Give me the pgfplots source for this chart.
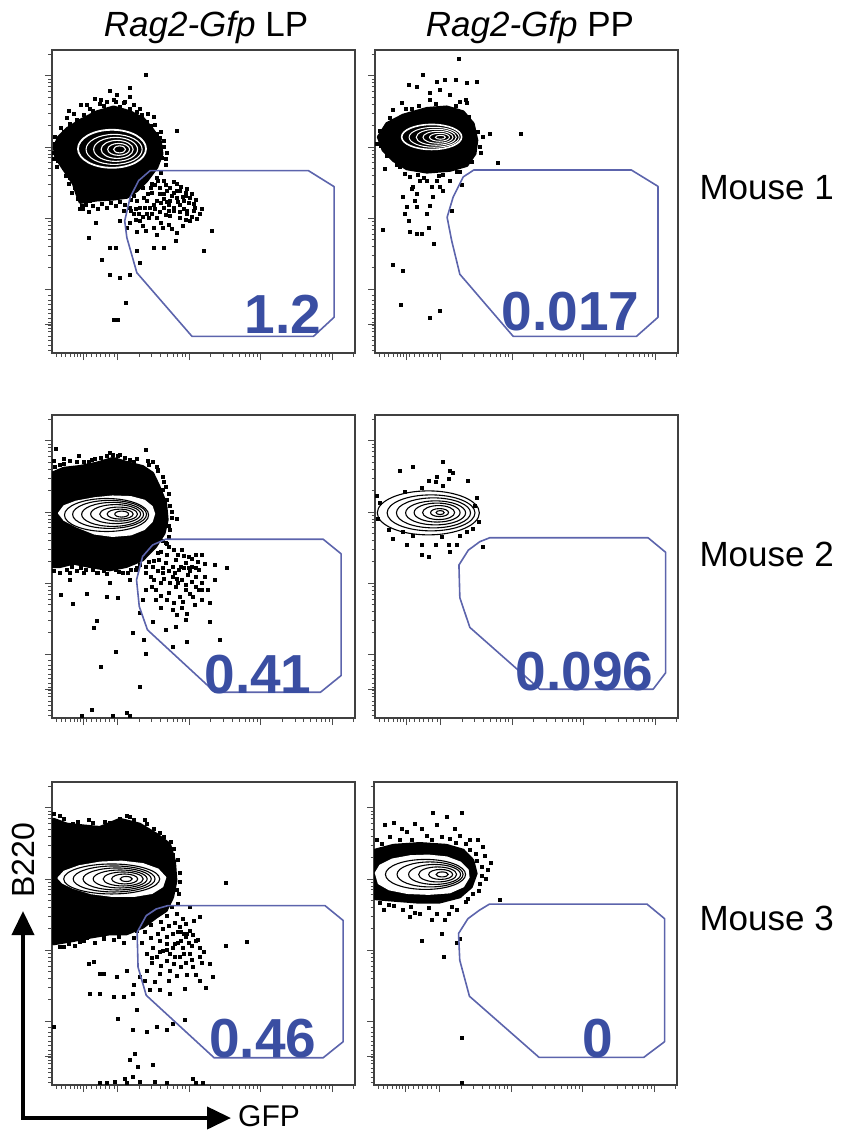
\documentclass[border=0pt]{standalone}
\usepackage{pgfplots}
\pgfplotsset{compat=1.18}
\usepackage{fontspec}
\setmainfont{Liberation Sans}
\usetikzlibrary{arrows.meta}
\definecolor{gatecol}{RGB}{92,100,172}
\definecolor{numcol}{RGB}{58,78,162}
\tikzset{num/.style={anchor=base east, text=numcol, font=\fontsize{55}{60}\selectfont\bfseries}}
\pgfplotsset{
  flowpanel/.style={width=303pt,height=303pt,scale only axis,
    xmin=0,xmax=100,ymin=0,ymax=100,anchor=north west,
    axis line style={draw=black!75,line width=1.1pt},
    tick align=outside, tick pos=left,
    xtick={10.4,21.6,45.3,68.9,92.4},
    minor xtick={1.5,3,4.5,6,7.5,8.5,9.5,11.5,13,14.5,16,17.5,19,20.5,28.7,32.9,35.8,38.1,40.0,41.5,42.9,44.1,52.4,56.6,59.5,61.8,63.7,65.2,66.6,67.8,76.0,80.2,83.1,85.4,87.3,88.8,90.2,91.4,99.5},
    ytick={9.6,21.0,44.5,68.0,91.5},
    minor ytick={1,2.5,4,5.5,7,8,9,10.2,11.5,13,14.5,16,17.5,19,28.1,32.2,35.1,37.4,39.3,40.9,42.2,43.4,51.6,55.7,58.6,60.9,62.8,64.4,65.7,66.9,75.1,79.2,82.1,84.4,86.3,87.9,89.2,90.4,98.6},
    xticklabels={},yticklabels={},
    major tick length=7pt, minor tick length=3.5pt,
    tick style={black!70,line width=0.8pt},
    clip mode=individual},
  dots/.style={only marks, mark=square*, mark size=1.5pt, black},
  blob/.style={fill=black, draw=black, line width=3pt, line join=round},
  egg/.style={fill=white, draw=white, line width=1.5pt, line join=round},
  gate/.style={draw=gatecol, line width=1.6pt, no marks, line join=round},
}
\begin{document}
\begin{tikzpicture}
\useasboundingbox (0pt,0pt) rectangle (841pt,-1133pt);

% ---------------- Mouse 1, LP ----------------
\begin{axis}[flowpanel, at={(52pt,-50pt)}]
\addplot[blob] coordinates {(0.8,68.0)(2.2,71.3)(4.9,74.0)(9.3,76.8)(14.8,79.6)(20.3,81.2)(25.8,79.6)(30.2,77.3)(33.0,74.0)(35.7,70.2)(36.3,65.7)(34.6,61.3)(31.3,56.9)(28.0,53.6)(24.7,51.4)(20.3,50.8)(14.8,50.5)(9.3,49.7)(8.2,52.5)(7.1,55.8)(4.9,59.1)(2.7,62.4)(1.1,65.2)} -- cycle;
\addplot[dots] coordinates {(30.8,91.9)(25.6,87.6)(21.4,85.3)(18.1,82.9)(5.5,80.1)(12.6,80.7)(15.9,82.3)(33.5,77.9)(41.2,73.3)(20.3,83.6)(25.8,80.7)(7.1,73.5)(2.7,70.2)(6.0,75.7)(10.4,78.5)(22.5,81.2)(28.0,79.6)(31.3,76.2)(34.6,72.4)(36.8,68.0)(36.3,64.6)(37.5,62.0)(13.5,80.0)(17.0,81.5)(23.5,82.5)(27.0,81.9)(29.5,78.8)(32.5,75.0)(35.5,71.2)(8.0,77.0)(4.0,73.0)(1.0,69.0)(0.5,66.0)(2.0,63.5)(3.8,61.0)(6.0,58.0)(7.5,54.5)(8.5,51.0)(11.0,49.0)(13.5,48.6)(16.5,49.3)(19.5,49.6)(22.5,50.0)(26.0,50.5)(10.0,47.5)(12.0,46.5)(25.5,84.5)(19.0,86.7)(14.0,84.0)(9.5,82.0)
(34.6,58.0)(36.8,56.9)(39.0,54.7)(41.2,55.8)(42.3,53.6)(44.5,54.1)(45.6,51.4)(43.4,50.3)(41.2,51.4)(39.0,50.3)(36.8,52.5)(34.6,50.3)(32.4,48.1)(36.8,48.1)(40.1,48.1)(43.4,47.5)(46.7,47.0)(48.9,45.9)(31.3,45.9)(29.1,43.6)(26.9,45.9)(33.5,41.4)(34.6,39.2)(41.2,39.8)(40.7,37.0)(52.7,40.3)(50.0,33.9)(36.8,34.8)(33.5,34.8)(28.0,33.7)(29.1,29.8)(25.8,26.0)(22.5,24.9)(19.2,26.0)(19.2,34.8)(20.9,34.8)(16.5,30.9)(12.1,38.1)(14.3,43.1)(24.2,16.6)(20.3,11.0)(21.6,11.0)(9.9,48.6)(12.6,50.3)(30.2,51.4)(28.0,50.3)(25.8,48.1)(23.6,46.9)(22.5,43.6)(25.8,43.1)(29.1,48.1)(31.3,50.3)(44.5,45.9)(46.7,49.2)(39.0,45.3)(34.6,44.8)(42.3,44.8)(45.6,43.6)(38.0,53.5)(40.0,52.8)(35.5,54.5)(33.0,53.0)(37.8,50.0)(42.0,49.0)(44.0,52.0)(47.5,50.5)(38.5,47.0)(35.5,46.5)(33.0,46.0)(30.5,47.8)(27.5,47.5)(47.8,44.2)(43.0,42.0)(38.5,42.5)(36.0,43.0)(31.0,40.5)(28.0,40.0)(24.5,41.5)
(35.0,57.0)(37.5,55.5)(40.0,56.5)(42.5,55.0)(44.0,53.0)(46.0,52.5)(43.0,51.5)(41.0,53.5)(39.5,52.0)(37.0,51.0)(35.5,52.5)(34.0,55.5)(32.5,54.5)(31.5,52.5)(33.5,49.0)(36.0,49.5)(38.5,49.0)(41.5,50.0)(45.0,49.5)(47.0,48.0)(44.5,47.0)(42.0,46.5)(40.0,47.0)(37.5,45.5)(34.0,47.5)(32.0,44.5)(30.0,45.0)(36.5,41.5)(39.5,41.0)(44.0,44.0)(49.5,47.5)(46.0,45.0)(28.5,46.0)(30.0,42.0)(27.5,44.0)(26.0,47.0)
(0.5,64.0)(1.5,61.5)(0.8,71.5)(3.0,74.5)(5.0,77.5)(7.0,79.0)(11.5,82.0)(16.0,83.5)(21.0,83.0)(24.0,83.0)(29.0,80.5)(31.5,79.0)(34.0,75.5)(36.0,73.0)(37.0,70.0)(37.8,66.0)(37.5,64.0)(36.0,59.5)(33.0,56.0)(30.0,54.5)(27.0,52.0)(5.5,56.0)(6.5,53.0)(4.5,58.5)(9.0,47.5)(15.0,47.5)(18.0,48.0)(21.0,48.5)(24.0,49.0)};
\addplot[only marks, mark=o, mark size=19pt, mark options={draw=white, line width=1.8pt, xscale=1.79}] coordinates {(19.8,67.4)};
\addplot[only marks, mark=o, mark size=15pt, mark options={draw=white, line width=1.1pt, xscale=1.87}] coordinates {(20.5,67.2)};
\addplot[only marks, mark=o, mark size=12pt, mark options={draw=white, line width=1.1pt, xscale=1.83}] coordinates {(21.0,67.2)};
\addplot[only marks, mark=o, mark size=9pt, mark options={draw=white, line width=1.1pt, xscale=1.78}] coordinates {(21.5,67.2)};
\addplot[only marks, mark=o, mark size=6pt, mark options={draw=white, line width=1.1pt, xscale=1.83}] coordinates {(22.0,67.2)};
\addplot[only marks, mark=o, mark size=3.5pt, mark options={draw=white, line width=1.1pt, xscale=1.71}] coordinates {(22.3,67.2)};
\addplot[gate] coordinates {(32.4,60.2)(84.6,60.2)(93.1,54.9)(93.1,11.8)(86.3,5.5)(46.2,5.5)(28.0,26.5)(24.7,38.1)(24.0,43.6)(25.8,51.4)(28.6,56.9)} -- cycle;
\node[num] at (axis cs:90,6.3) {1.2};
\end{axis}

% ---------------- Mouse 1, PP ----------------
\begin{axis}[flowpanel, at={(375pt,-50pt)}]
\addplot[blob] coordinates {(1.1,71.3)(3.9,75.7)(9.3,78.5)(17.1,80.7)(23.7,81.2)(29.1,79.6)(32.4,75.7)(33.6,70.2)(33.0,65.8)(30.3,61.9)(24.8,60.3)(17.1,59.7)(10.5,60.8)(6.0,63.6)(2.7,66.9)} -- cycle;
\addplot[dots] coordinates {(27.7,97.2)(15.9,91.9)(11.0,88.6)(13.7,88.0)(20.3,89.7)(23.1,90.3)(26.7,90.3)(30.2,89.1)(33.5,89.7)(18.1,85.8)(21.4,86.9)(24.7,85.3)(28.0,83.1)(30.2,82.5)(8.8,82.5)(6.0,80.3)(3.3,60.9)(37.9,72.5)(48.0,72.5)(40.4,62.8)(28.6,55.4)(25.3,47.1)(2.5,40.6)(5.8,29.3)(9.3,27.1)(8.5,16.1)(18.1,11.8)(21.4,14.1)(19.5,36.0)
(9.9,59.2)(11.5,58.1)(12.6,54.8)(13.7,52.6)(13.2,50.4)(10.4,48.2)(11.0,43.7)(11.5,39.9)(13.7,39.5)(15.4,39.3)(17.6,41.5)(17.9,48.7)(17.0,46.0)(19.2,51.5)(21.4,54.8)(22.5,53.7)(20.3,57.0)(24.7,57.0)(26.9,59.8)(17.0,57.0)(14.8,57.0)(18.7,54.8)(9.3,51.5)(9.9,46.0)(13.7,48.2)(12.1,54.3)
(0.5,69.0)(1.5,73.5)(5.0,77.5)(12.0,80.5)(14.5,81.5)(20.0,82.3)(26.5,81.5)(31.0,78.0)(33.8,73.0)(34.5,68.0)(32.0,63.0)(28.0,60.0)(21.0,58.5)(14.0,59.0)(8.0,61.5)(4.0,65.0)(2.0,68.5)(35.5,71.5)(35.0,66.0)(30.0,83.5)(18.0,83.5)(10.0,80.5)(22.5,59.0)(16.0,58.0)(7.0,62.0)};
\addplot[only marks, mark=o, mark size=12.5pt, mark options={draw=white, line width=1.6pt, xscale=2.4}] coordinates {(18.7,71.3)};
\addplot[only marks, mark=o, mark size=10pt, mark options={draw=white, line width=1.0pt, xscale=2.5}] coordinates {(19.5,71.2)};
\addplot[only marks, mark=o, mark size=8pt, mark options={draw=white, line width=1.0pt, xscale=2.5}] coordinates {(20.2,71.2)};
\addplot[only marks, mark=o, mark size=6pt, mark options={draw=white, line width=1.0pt, xscale=2.5}] coordinates {(20.8,71.2)};
\addplot[only marks, mark=o, mark size=4pt, mark options={draw=white, line width=1.0pt, xscale=2.5}] coordinates {(21.3,71.2)};
\addplot[only marks, mark=o, mark size=2pt, mark options={draw=white, line width=1.0pt, xscale=2.5}] coordinates {(21.6,71.2)};
\addplot[gate] coordinates {(32.6,60.4)(84.6,60.4)(93.4,55.0)(93.4,11.8)(86.3,5.5)(45.6,5.5)(28.0,26.0)(25.3,37.1)(23.8,44.8)(25.8,51.5)(29.1,58.1)} -- cycle;
\node[num] at (axis cs:88.4,7.3) {0.017};
\end{axis}

% ---------------- Mouse 2, LP ----------------
\begin{axis}[flowpanel, at={(52pt,-415pt)}]
\addplot[blob] coordinates {(0,80.8)(3.8,82.4)(9.2,83.0)(14.7,84.1)(20.1,85.7)(25.5,84.1)(29.9,83.0)(33.2,80.8)(35.3,76.4)(37.5,70.9)(38.0,65.4)(37.0,61.0)(34.2,56.6)(29.9,52.2)(24.5,50.0)(19.0,48.9)(12.5,50.0)(7.1,51.1)(2.7,50.0)(0,50.0)} -- cycle;
\addplot[dots] coordinates {(1.1,89.0)(3.8,85.7)(8.7,86.5)(13.0,85.4)(19.0,87.6)(21.7,86.5)(25.5,85.2)(31.0,88.5)(33.2,84.6)(34.8,81.9)(37.5,76.4)(41.3,65.9)(35.9,61.5)
(38.6,56.6)(42.9,55.5)(45.1,53.3)(47.3,53.8)(49.5,53.8)(40.8,52.2)(44.0,51.1)(46.2,50.0)(48.4,48.9)(41.8,48.9)(39.7,50.0)(37.5,51.1)(35.3,52.2)(33.2,50.0)(31.0,47.8)(36.4,47.8)(39.7,46.7)(42.9,45.6)(46.2,45.1)(49.5,44.5)(44.9,47.2)(47.3,46.7)(48.4,42.3)(44.0,42.3)(40.8,43.4)(38.6,41.2)(34.2,42.3)(31.0,42.3)(29.9,39.0)(34.2,39.0)(37.7,39.0)(42.1,40.1)(46.5,40.1)(49.5,39.0)(39.7,35.7)(42.9,36.3)(53.8,50.5)(57.6,49.5)(53.8,45.6)(52.2,37.9)(49.5,42.3)(44.0,32.4)(40.8,30.2)(37.5,29.1)(33.2,31.9)(28.8,34.6)(30.4,25.8)(26.6,28.0)(39.7,23.6)(44.6,25.3)(52.2,31.9)(55.2,25.8)(30.8,21.2)(28.8,10.2)(21.0,22.0)(16.1,17.0)(13.8,29.7)(14.7,32.2)(11.6,41.0)(6.8,37.7)(3.0,40.7)(6.0,45.6)(10.3,47.8)(19.0,44.5)(17.9,40.1)(21.7,39.6)(13.0,2.7)(9.8,0.6)(24.5,1.6)(20.1,0.6)(25.5,0.6)(6.0,47.8)(14.7,47.8)(23.4,47.8)(27.7,48.9)(25.5,45.6)
(0.5,48.5)(2.5,48.0)(5.0,49.0)(8.0,48.5)(11.0,48.8)(15.0,48.0)(18.0,47.5)(22.0,48.2)(26.0,49.0)(29.0,50.5)(32.0,51.5)(35.0,54.5)(37.5,58.0)(39.0,62.0)(39.5,66.0)(39.0,70.0)(38.5,74.0)(37.0,78.0)(35.0,81.5)(32.0,83.5)(28.0,85.5)(24.0,86.0)(20.0,87.0)(16.0,85.8)(12.0,84.5)(8.0,84.5)(4.0,84.0)(1.0,83.0)(43.5,49.5)(45.5,48.5)(41.0,46.0)(36.0,44.5)(33.5,45.5)(38.0,54.0)
(38.0,57.5)(40.0,55.5)(41.5,54.0)(43.5,53.5)(46.0,52.5)(48.0,51.5)(50.5,51.0)(47.5,49.5)(45.0,49.5)(42.5,50.0)(40.5,48.0)(38.5,48.5)(36.5,49.5)(35.0,48.5)(37.0,46.0)(39.0,44.5)(41.5,44.5)(44.0,44.0)(47.5,43.5)(50.5,46.5)(51.5,42.5)(45.5,41.0)(43.0,38.5)(40.0,38.0)(36.0,40.5)(33.0,43.5)(32.5,46.5)(47.0,37.5)(44.5,34.5)(41.0,34.0)(36.0,36.5)
(0.5,51.5)(3.5,51.0)(6.5,50.0)(9.5,49.5)(13.5,49.0)(17.0,48.5)(21.0,49.0)(25.0,48.0)(28.0,49.5)(31.0,50.0)(33.5,52.0)(36.0,55.0)(36.5,58.5)(38.5,60.0)(38.5,63.5)(39.5,68.0)(38.0,72.0)(36.5,75.5)(36.5,79.5)(34.5,83.0)(31.5,84.8)(27.0,84.5)(22.5,87.0)(18.0,86.5)(14.0,85.5)(10.5,84.5)(6.0,85.0)(2.5,83.5)(0.5,85.0)};
\addplot[egg] coordinates {(2.2,67.6)(4,70)(8,71.5)(14,72.6)(20,73.2)(26,73.0)(30.5,71.8)(33,69.8)(33.8,67.4)(33,64.8)(30.5,62.3)(26,60.5)(20,60.0)(14,60.8)(8,63.2)(4,65.3)} -- cycle;
\addplot[only marks, mark=o, mark size=16.5pt, mark options={draw=black, line width=1.1pt, xscale=2.55}] coordinates {(18.0,67.0)};
\addplot[only marks, mark=o, mark size=14pt, mark options={draw=black, line width=1.1pt, xscale=2.64}] coordinates {(19.0,67.2)};
\addplot[only marks, mark=o, mark size=12pt, mark options={draw=black, line width=1.1pt, xscale=2.58}] coordinates {(20.0,67.2)};
\addplot[only marks, mark=o, mark size=9.5pt, mark options={draw=black, line width=1.1pt, xscale=2.63}] coordinates {(21.0,67.3)};
\addplot[only marks, mark=o, mark size=7pt, mark options={draw=black, line width=1.1pt, xscale=2.7}] coordinates {(22.0,67.3)};
\addplot[only marks, mark=o, mark size=5pt, mark options={draw=black, line width=1.1pt, xscale=2.6}] coordinates {(22.5,67.3)};
\addplot[only marks, mark=o, mark size=3pt, mark options={draw=black, line width=1.1pt, xscale=2.3}] coordinates {(23.0,67.3)};
\addplot[gate] coordinates {(37.5,59.0)(89.5,59.0)(95.4,54.2)(95.4,14.0)(88.6,8.5)(53.8,8.5)(31.5,29.1)(28.8,36.8)(27.9,45.6)(29.9,53.3)(33.2,57.1)} -- cycle;
\node[num] at (axis cs:86.8,8.2) {0.41};
\end{axis}

% ---------------- Mouse 2, PP ----------------
\begin{axis}[flowpanel, at={(375pt,-415pt)}]
\addplot[dots] coordinates {(8.0,81.5)(12.3,82.9)(22.3,84.5)(24.7,81.7)(25.6,80.8)(17.6,78.3)(20.3,79.7)(20.1,77.9)(24.2,79.0)(15.4,76.1)(22.5,76.6)(30.5,78.3)(0.5,73.4)(9.9,74.7)(33.5,72.8)(32.9,70.1)(34.1,64.7)(6.0,59.2)(10.4,57.3)(15.4,57.1)(20.1,57.3)(24.2,57.1)(26.9,57.1)(24.7,54.9)(15.4,54.0)(17.6,53.3)(35.7,56.5)(4.4,62.0)(32.4,62.5)(1.6,71.2)(0.8,65.8)(30.2,61.4)(9.3,61.4)(12.6,60.3)(28.0,60.3)(22.0,59.8)};
\addplot[only marks, mark=o, mark size=22pt, mark options={draw=black, line width=1.1pt, xscale=2.32}] coordinates {(17.6,67.7)};
\addplot[only marks, mark=o, mark size=18pt, mark options={draw=black, line width=1.1pt, xscale=2.44}] coordinates {(18.5,67.7)};
\addplot[only marks, mark=o, mark size=15pt, mark options={draw=black, line width=1.1pt, xscale=2.47}] coordinates {(19.3,67.7)};
\addplot[only marks, mark=o, mark size=12pt, mark options={draw=black, line width=1.1pt, xscale=2.5}] coordinates {(20.0,67.7)};
\addplot[only marks, mark=o, mark size=9.5pt, mark options={draw=black, line width=1.1pt, xscale=2.42}] coordinates {(20.5,67.8)};
\addplot[only marks, mark=o, mark size=7pt, mark options={draw=black, line width=1.1pt, xscale=2.29}] coordinates {(21.0,67.8)};
\addplot[only marks, mark=o, mark size=4pt, mark options={draw=black, line width=1.1pt, xscale=2.25}] coordinates {(21.3,67.8)};
\addplot[only marks, mark=o, mark size=2pt, mark options={draw=black, line width=1.1pt, xscale=2.0}] coordinates {(21.5,67.8)};
\addplot[gate] coordinates {(37.9,59.5)(90.1,59.5)(95.9,54.7)(95.9,14.9)(91.8,9.5)(54.4,9.5)(31.3,29.9)(28.0,39.7)(27.7,50.5)(30.8,55.4)(34.6,58.2)} -- cycle;
\node[num] at (axis cs:93,9) {0.096};
\end{axis}

% ---------------- Mouse 3, LP ----------------
\begin{axis}[flowpanel, at={(52pt,-782pt)}]
\addplot[blob] coordinates {(0.5,87.7)(4.9,86.1)(10.4,85.5)(15.8,85.0)(22.4,87.7)(28.9,86.1)(34.4,82.8)(38.8,79.5)(40.4,74.0)(40.9,67.4)(39.8,62.0)(37.7,57.6)(34.4,55.4)(30.0,52.1)(24.6,49.9)(19.1,49.9)(12.6,48.8)(7.1,47.7)(0.5,46.6)} -- cycle;
\addplot[dots] coordinates {(6.9,86.3)(22.4,87.9)(31.1,86.1)(28.4,85.2)(35.5,83.3)(39.3,80.4)(39.8,76.0)(57.3,66.7)(45.3,58.7)(48.6,55.4)(46.9,54.3)(44.2,53.2)(42.0,52.1)(39.8,49.9)(37.7,48.8)(35.5,47.7)(44.2,48.8)(47.5,47.7)(48.6,45.3)(43.1,45.3)(39.8,45.3)(36.6,44.4)(33.3,45.3)(31.1,43.3)(34.4,42.2)(37.7,41.1)(42.0,42.2)(45.3,43.3)(48.6,42.2)(51.9,40.0)(46.4,38.9)(42.6,38.9)(38.8,37.8)(35.5,36.7)(31.1,37.8)(28.9,35.6)(24.6,37.8)(21.3,35.6)(16.9,36.7)(12.0,40.0)(13.6,40.6)(15.8,36.7)(12.6,30.2)(15.8,30.2)(20.2,29.1)(23.5,29.1)(26.7,30.2)(32.2,31.3)(35.5,31.3)(38.8,30.2)(43.7,31.8)(48.6,34.5)(52.9,35.6)(50.8,32.2)(57.3,46.1)(64.1,47.4)(21.8,21.9)(26.7,18.1)(31.1,17.5)(34.4,19.2)(37.7,18.1)(39.8,20.3)(43.7,21.4)(27.8,24.7)(27.3,10.4)(28.4,6.0)(33.3,6.6)(25.7,8.2)(0.5,19.2)(15.8,0.6)(18.0,0.8)(20.7,1.1)(24.0,2.2)(26.7,2.7)(29.0,1.1)(33.8,1.1)(37.7,0.6)(46.4,2.2)(47.5,0.6)(49.7,0.6)(24.6,0.6)(4.9,48.6)(9.3,47.2)(16.9,48.2)(1.6,47.7)(3.8,45.5)(11.5,48.6)
(41.0,56.5)(43.0,55.0)(40.5,53.5)(38.5,52.5)(36.5,51.5)(41.5,50.5)(45.5,51.0)(43.5,50.0)(46.0,46.0)(41.5,47.0)(38.0,46.5)(35.0,50.0)(32.5,48.5)(29.5,47.0)(27.0,48.5)(50.0,44.0)(44.0,40.5)(40.0,40.0)(36.0,39.5)(33.0,40.5)(39.0,43.5)(30.5,50.5)(2.5,89.0)(12.0,87.5)(17.5,86.8)(25.5,88.5)(42.0,70.0)(41.8,63.0)(41.5,60.0)(20.5,48.0)(23.5,47.0)(14.0,47.0)(7.5,46.0)
(0.5,89.5)(4.0,88.0)(8.5,87.0)(13.5,86.5)(19.0,86.5)(24.5,89.0)(27.0,87.5)(30.5,87.5)(33.5,84.5)(37.0,82.0)(40.0,78.0)(41.5,74.5)(42.0,67.0)(41.0,64.5)(39.5,59.0)(38.0,56.0)(36.0,54.0)(32.5,53.0)(28.0,51.0)(22.0,49.0)(17.0,48.5)(10.5,47.5)(5.5,46.8)(2.5,45.5)
(42.5,50.5)(44.5,50.0)(46.5,49.5)(48.0,48.0)(45.0,47.0)(42.5,47.5)(40.5,46.5)(38.0,44.5)(35.5,44.0)(33.0,42.0)(40.5,42.5)(43.5,43.5)(46.0,41.5)(49.5,40.5)(47.5,36.5)(44.5,36.5)(41.0,36.0)(38.5,34.5)(34.0,34.0)(30.5,34.5)(27.0,33.0)};
\addplot[egg] coordinates {(2.0,68.3)(4,70.5)(9,72.3)(16,73.5)(23,73.8)(30,73.0)(35,71.2)(37.5,68.5)(36.5,65.5)(33,63.3)(27,62.3)(20,62.3)(13,63.2)(7,65)(3.5,66.7)} -- cycle;
\addplot[only marks, mark=o, mark size=15pt, mark options={draw=black, line width=1.1pt, xscale=3.2}] coordinates {(19.7,68.0)};
\addplot[only marks, mark=o, mark size=13pt, mark options={draw=black, line width=1.1pt, xscale=3.15}] coordinates {(20.5,68.0)};
\addplot[only marks, mark=o, mark size=11pt, mark options={draw=black, line width=1.1pt, xscale=3.1}] coordinates {(21.5,68.0)};
\addplot[only marks, mark=o, mark size=9pt, mark options={draw=black, line width=1.1pt, xscale=3.0}] coordinates {(22.5,68.0)};
\addplot[only marks, mark=o, mark size=7pt, mark options={draw=black, line width=1.1pt, xscale=2.86}] coordinates {(23.5,68.0)};
\addplot[only marks, mark=o, mark size=5pt, mark options={draw=black, line width=1.1pt, xscale=2.6}] coordinates {(24.0,68.0)};
\addplot[only marks, mark=o, mark size=2.5pt, mark options={draw=black, line width=1.1pt, xscale=2.4}] coordinates {(24.5,68.0)};
\addplot[gate] coordinates {(38.2,59.2)(90.1,59.2)(96.1,54.3)(96.1,14.3)(89.5,9.0)(53.5,9.0)(31.1,29.6)(28.4,38.9)(28.1,50.4)(31.1,55.9)(34.4,58.1)} -- cycle;
\node[num] at (axis cs:88.4,9) {0.46};
\end{axis}

% ---------------- Mouse 3, PP ----------------
\begin{axis}[flowpanel, at={(374pt,-782pt)}]
\addplot[blob] coordinates {(0.3,77.5)(6.4,79.1)(15.1,79.7)(23.9,79.1)(29.4,77.5)(32.6,74.2)(33.7,69.8)(32.1,65.4)(28.3,62.1)(21.7,60.4)(14.0,60.4)(6.4,61.0)(0.3,61.5)} -- cycle;
\addplot[dots] coordinates {(19.5,89.8)(23.9,88.5)(29.1,89.8)(6.4,86.5)(3.6,85.9)(13.5,86.3)(15.7,84.6)(20.6,86.0)(28.3,82.4)(31.5,80.8)(34.3,80.8)(36.5,75.8)(37.6,70.9)(37.0,68.1)(41.6,61.3)(22.2,50.0)(15.7,47.6)(27.2,46.9)(28.3,48.4)(23.1,42.5)(29.1,15.7)(28.8,0.6)(18.9,54.7)(23.4,54.4)(15.1,56.4)(9.6,57.9)(6.4,59.3)(2.0,60.1)(27.2,57.7)(30.4,60.4)(32.6,63.2)(34.8,66.5)(35.4,72.0)(33.7,76.4)(30.4,79.7)(25.0,81.3)(17.3,82.4)(10.7,83.5)(5.3,81.9)(0.9,80.8)(3.1,57.7)(11.8,55.5)(20.6,56.6)
(2.5,79.5)(8.5,80.8)(12.5,81.0)(19.0,80.8)(22.5,82.0)(27.0,80.0)(31.5,77.5)(34.0,74.0)(35.5,69.0)(34.5,64.0)(31.0,61.5)(25.5,59.0)(18.0,58.5)(12.0,59.0)(5.0,59.5)(1.5,62.5)(9.0,84.5)(26.5,84.5)(36.0,78.5)(38.5,73.5)(13.5,57.0)(24.5,56.5)};
\addplot[egg] coordinates {(0.5,70)(2,72.5)(6,74.5)(12,75.6)(18,75.8)(24,75.2)(28.5,73.5)(31,71)(31.3,68.5)(29.5,65.5)(25,63.5)(18,63)(11,63.3)(5,64.5)(1.5,66.5)} -- cycle;
\addplot[only marks, mark=o, mark size=15pt, mark options={draw=black, line width=1.1pt, xscale=2.67}] coordinates {(17.0,69.5)};
\addplot[only marks, mark=o, mark size=12.5pt, mark options={draw=black, line width=1.1pt, xscale=2.64}] coordinates {(18.5,69.5)};
\addplot[only marks, mark=o, mark size=10pt, mark options={draw=black, line width=1.1pt, xscale=2.6}] coordinates {(20.0,69.5)};
\addplot[only marks, mark=o, mark size=7.5pt, mark options={draw=black, line width=1.1pt, xscale=2.53}] coordinates {(21.0,69.5)};
\addplot[only marks, mark=o, mark size=5pt, mark options={draw=black, line width=1.1pt, xscale=2.4}] coordinates {(22.0,69.5)};
\addplot[only marks, mark=o, mark size=2.5pt, mark options={draw=black, line width=1.1pt, xscale=2.4}] coordinates {(22.5,69.5)};
\addplot[gate] coordinates {(38.1,59.7)(90.1,59.7)(95.9,54.9)(95.9,14.3)(89.0,9.1)(54.5,9.1)(31.5,29.3)(28.3,41.2)(27.9,50.0)(31.0,54.9)(34.8,57.7)} -- cycle;
\node[num] at (axis cs:80,9.2) {0};
\end{axis}

% ---------------- labels ----------------
\node[anchor=base, font=\fontsize{35}{40}\selectfont] at (206pt,-36pt) {\textit{Rag2-Gfp} LP};
\node[anchor=base, font=\fontsize{35}{40}\selectfont] at (530pt,-36pt) {\textit{Rag2-Gfp} PP};
\node[anchor=base west, font=\fontsize{35}{40}\selectfont] at (696pt,-199pt) {Mouse 1};
\node[anchor=base west, font=\fontsize{35}{40}\selectfont] at (696pt,-566pt) {Mouse 2};
\node[anchor=base west, font=\fontsize{35}{40}\selectfont] at (696pt,-930pt) {Mouse 3};
\draw[line width=4pt, line join=miter, {Triangle[length=24pt,width=22pt]}-{Triangle[length=24pt,width=22pt]}] (23pt,-911pt) -- (23pt,-1118pt) -- (231pt,-1118pt);
\node[rotate=90, anchor=center, font=\fontsize{32}{36}\selectfont] at (23pt,-860pt) {B220};
\node[anchor=base west, inner sep=0pt, font=\fontsize{30}{34}\selectfont] at (238pt,-1126pt) {GFP};
\end{tikzpicture}
\end{document}
